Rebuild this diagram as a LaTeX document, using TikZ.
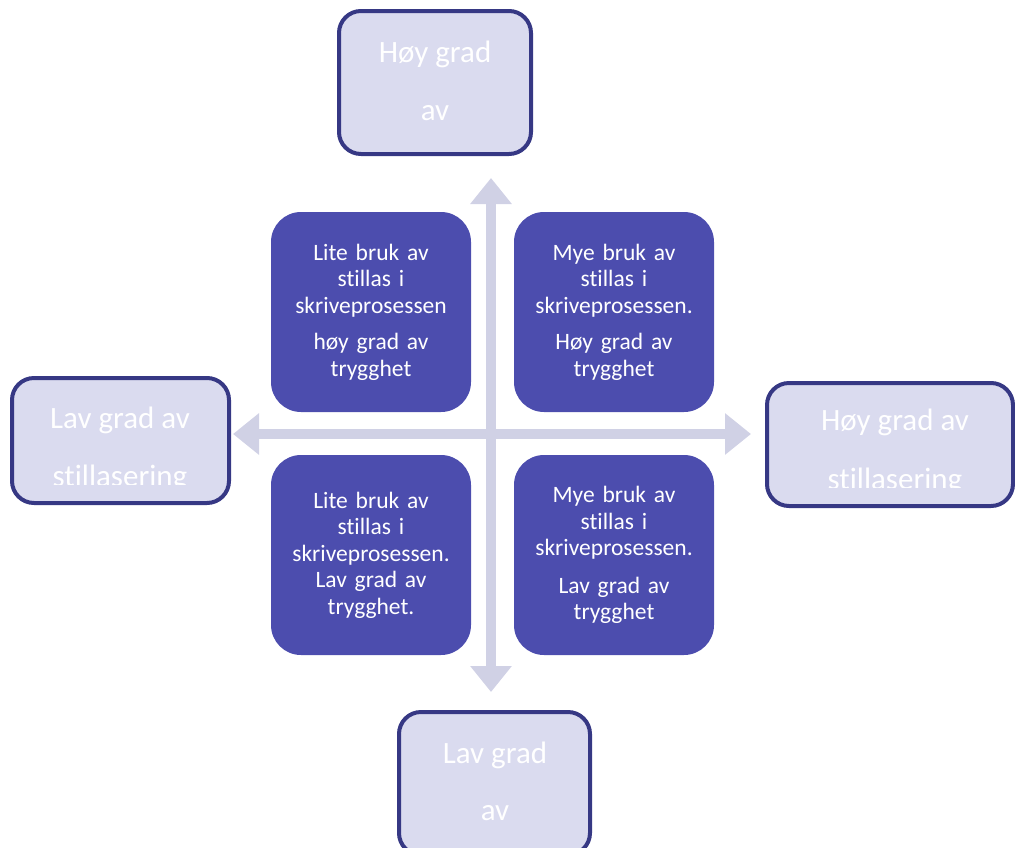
\documentclass[tikz,border=0pt]{standalone}
\usepackage{fontspec}
\setmainfont{Carlito}[Ligatures={NoCommon}]
\usetikzlibrary{arrows.meta}
\definecolor{outerfill}{HTML}{DADBEF}
\definecolor{outerdraw}{HTML}{363884}
\definecolor{innerfill}{HTML}{4C4DAE}
\definecolor{axiscol}{HTML}{D0D1E5}
\begin{document}
\begin{tikzpicture}[x=1pt,y=-1pt,
 outerbox/.style={draw=outerdraw, fill=outerfill, line width=4pt, rounded corners=22pt, inner sep=0pt},
 outertext/.style={text=white, font=\fontsize{31}{58}\selectfont, anchor=base, inner sep=0pt},
 innerbox/.style={fill=innerfill, rounded corners=30pt, minimum width=200pt, minimum height=200pt, text width=190pt, align=center, text=white, font=\fontsize{23.5}{26.5}\selectfont, inner sep=0pt},
 axisarrow/.style={draw=axiscol, fill=axiscol, line width=10pt, arrows={Triangle[width=40pt,length=26pt]-Triangle[width=40pt,length=26pt]}}
]
\useasboundingbox (0,0) rectangle (1015,847);
\clip (0,0) rectangle (1015,847);
% axes
\coordinate (vtop) at (491,178);
\coordinate (vbot) at (491,692);
\coordinate (hleft) at (233,434);
\coordinate (hright) at (751,434);
\draw[axisarrow] (vtop) -- (vbot);
\draw[axisarrow] (hleft) -- (hright);
% inner boxes
\node[innerbox] (tl) at (371,312) {Lite bruk av\\ stillas i\\ skriveprosessen\\[10pt] høy grad av\\ trygghet};
\node[innerbox] (tr) at (614,312) {Mye bruk av\\ stillas i\\ skriveprosessen.\\[10pt] Høy grad av\\ trygghet};
\node[innerbox] (bl) at (371,555) {Lite bruk av\\ stillas i\\ skriveprosessen.\\ Lav grad av\\ trygghet.};
\node[innerbox] (br) at (614,555) {Mye bruk av\\ stillas i\\ skriveprosessen.\\[11pt] Lav grad av\\ trygghet};
% outer boxes
\node[outerbox, minimum width=192pt, minimum height=143pt] (topbox) at (435,82.5) {};
\node[outertext] (topt1) at (435,62) {Høy grad};
\node[outertext] (topt2) at (435,120) {av};
\node[outerbox, minimum width=217pt, minimum height=125pt] (leftbox) at (120.5,440.5) {};
\begin{scope}
\clip (14,380) rectangle (227,484);
\node[outertext] (leftt1) at (120,428) {Lav grad av};
\node[outertext] (leftt2) at (120,486) {stillasering};
\end{scope}
\node[outerbox, minimum width=246pt, minimum height=123pt] (rightbox) at (890,444.5) {};
\begin{scope}
\clip (771,385) rectangle (1011,487);
\node[outertext] (rightt1) at (895,430) {Høy grad av};
\node[outertext] (rightt2) at (895,489) {stillasering};
\end{scope}
\node[outerbox, minimum width=191pt, minimum height=143pt] (botbox) at (494.5,783.5) {};
\node[outertext] (bott1) at (495,763) {Lav grad};
\node[outertext] (bott2) at (495,820) {av};
\end{tikzpicture}
\end{document}
